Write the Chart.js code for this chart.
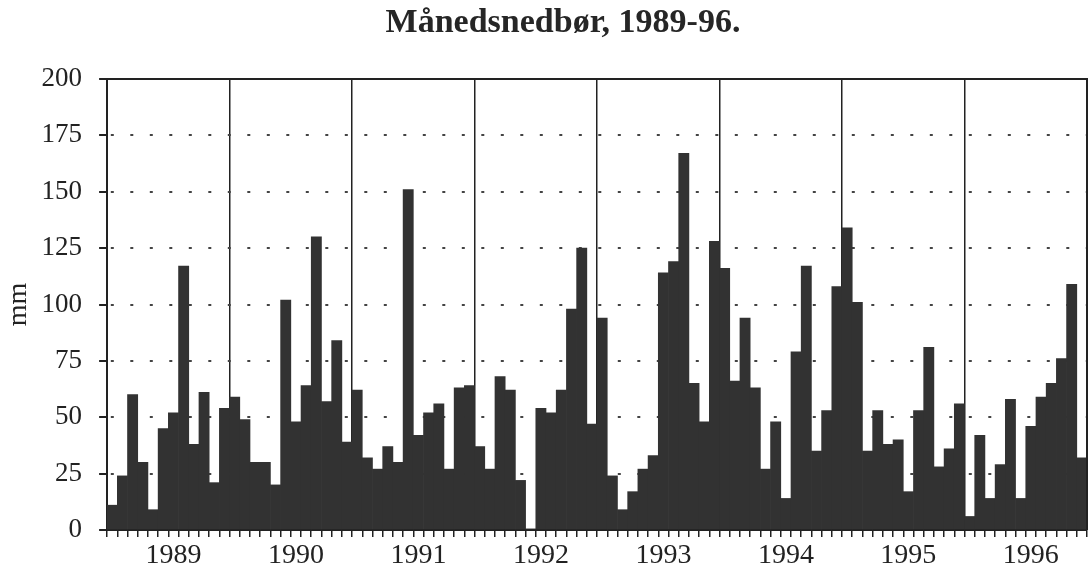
<!DOCTYPE html>
<html>
<head>
<meta charset="utf-8">
<script src="https://cdn.jsdelivr.net/npm/chart.js@4.4.1/dist/chart.umd.min.js"></script>
<style>
  html, body { margin: 0; padding: 0; background: #fff; }
  #wrap { position: relative; width: 1091px; height: 570px; }
  #title {
    position: absolute; left: 563px; top: 4px; transform: translateX(-50%);
    font: bold 34px/34px "Liberation Serif", serif; color: #262626; white-space: nowrap;
  }
</style>
</head>
<body>
<div id="wrap">
  <div id="title">Månedsnedbør, 1989-96.</div>
  <canvas id="rainChart" width="1091" height="570"></canvas>
</div>
<script>
// years shown on the x axis
var years = ["1989", "1990", "1991", "1992", "1993", "1994", "1995", "1996"];

// monthly precipitation, mm (Jan..Dec)
var r1989 = [11, 24, 60, 30, 9, 45, 52, 117, 38, 61, 21, 54];
var r1990 = [59, 49, 30, 30, 20, 102, 48, 64, 130, 57, 84, 39];
var r1991 = [62, 32, 27, 37, 30, 151, 42, 52, 56, 27, 63, 64];
var r1992 = [37, 27, 68, 62, 22, 0.5, 54, 52, 62, 98, 125, 47];
var r1993 = [94, 24, 9, 17, 27, 33, 114, 119, 167, 65, 48, 128];
var r1994 = [116, 66, 94, 63, 27, 48, 14, 79, 117, 35, 53, 108];
var r1995 = [134, 101, 35, 53, 38, 40, 17, 53, 81, 28, 36, 56];
var r1996 = [6, 42, 14, 29, 58, 14, 46, 59, 65, 76, 109, 32];

// y axis ticks
var yTicks = [0, 25, 50, 75, 100, 125, 150, 175, 200];

var rain = [].concat(r1989, r1990, r1991, r1992, r1993, r1994, r1995, r1996);
var labels = [];
years.forEach(function (y) {
    for (var m = 1; m <= 12; m++) labels.push(y + "-" + m);
});

// top and right frame lines
var frame = {
    id: "frame",
    afterDraw: function (chart) {
        var a = chart.chartArea, c = chart.ctx;
        c.save();
        c.strokeStyle = "#222";
        c.lineWidth = 2;
        c.beginPath();
        c.moveTo(a.left, a.top);
        c.lineTo(a.right, a.top);
        c.lineTo(a.right, a.bottom);
        c.stroke();
        c.restore();
    }
};

var ctx = document.getElementById("rainChart").getContext("2d");
var rainChart = new Chart(ctx, {
    type: "bar",
    data: {
        labels: labels,
        datasets: [{
            data: rain,
            backgroundColor: "#323232",
            borderWidth: 0,
            barPercentage: 1.0,
            categoryPercentage: 1.0
        }]
    },
    options: {
        responsive: false,
        animation: false,
        layout: { padding: { top: 79, right: 4, bottom: -5, left: 0 } },
        plugins: {
            legend: { display: false },
            tooltip: { enabled: false }
        },
        scales: {
            x: {
                offset: true,
                grid: {
                    offset: true,
                    // year dividers
                    color: function (c) {
                        return (c.index !== undefined && c.index % 12 === 0) ? "#222" : "rgba(0,0,0,0)";
                    },
                    lineWidth: 1.5,
                    tickColor: "#222",
                    tickWidth: 1.5,
                    tickLength: 7
                },
                border: { color: "#222", width: 2 },
                ticks: {
                    autoSkip: false,
                    maxRotation: 0,
                    padding: 5,
                    color: "#222",
                    font: { family: "'Liberation Serif', serif", size: 28, lineHeight: 1.0 },
                    callback: function (v, i) {
                        return i % 12 === 6 ? years[Math.floor(i / 12)] : "";
                    }
                }
            },
            y: {
                min: 0,
                max: 200,
                afterBuildTicks: function (axis) {
                    axis.ticks = yTicks.map(function (v) { return { value: v }; });
                },
                grid: {
                    color: function (c) {
                        var v = c.tick ? c.tick.value : 0;
                        return (v === 0 || v === 200) ? "rgba(0,0,0,0)" : "#444";
                    },
                    lineWidth: 2,
                    tickColor: "#222",
                    tickWidth: 2,
                    tickLength: 8
                },
                border: { color: "#222", width: 2, dash: [3, 16.5], dashOffset: -2.8 },
                ticks: {
                    padding: 17,
                    color: "#222",
                    font: { family: "'Liberation Serif', serif", size: 27 }
                },
                title: {
                    display: true,
                    text: "mm",
                    color: "#222",
                    padding: { top: 2, bottom: -11 },
                    font: { family: "'Liberation Serif', serif", size: 28 }
                }
            }
        }
    },
    plugins: [frame]
});
</script>
</body>
</html>
